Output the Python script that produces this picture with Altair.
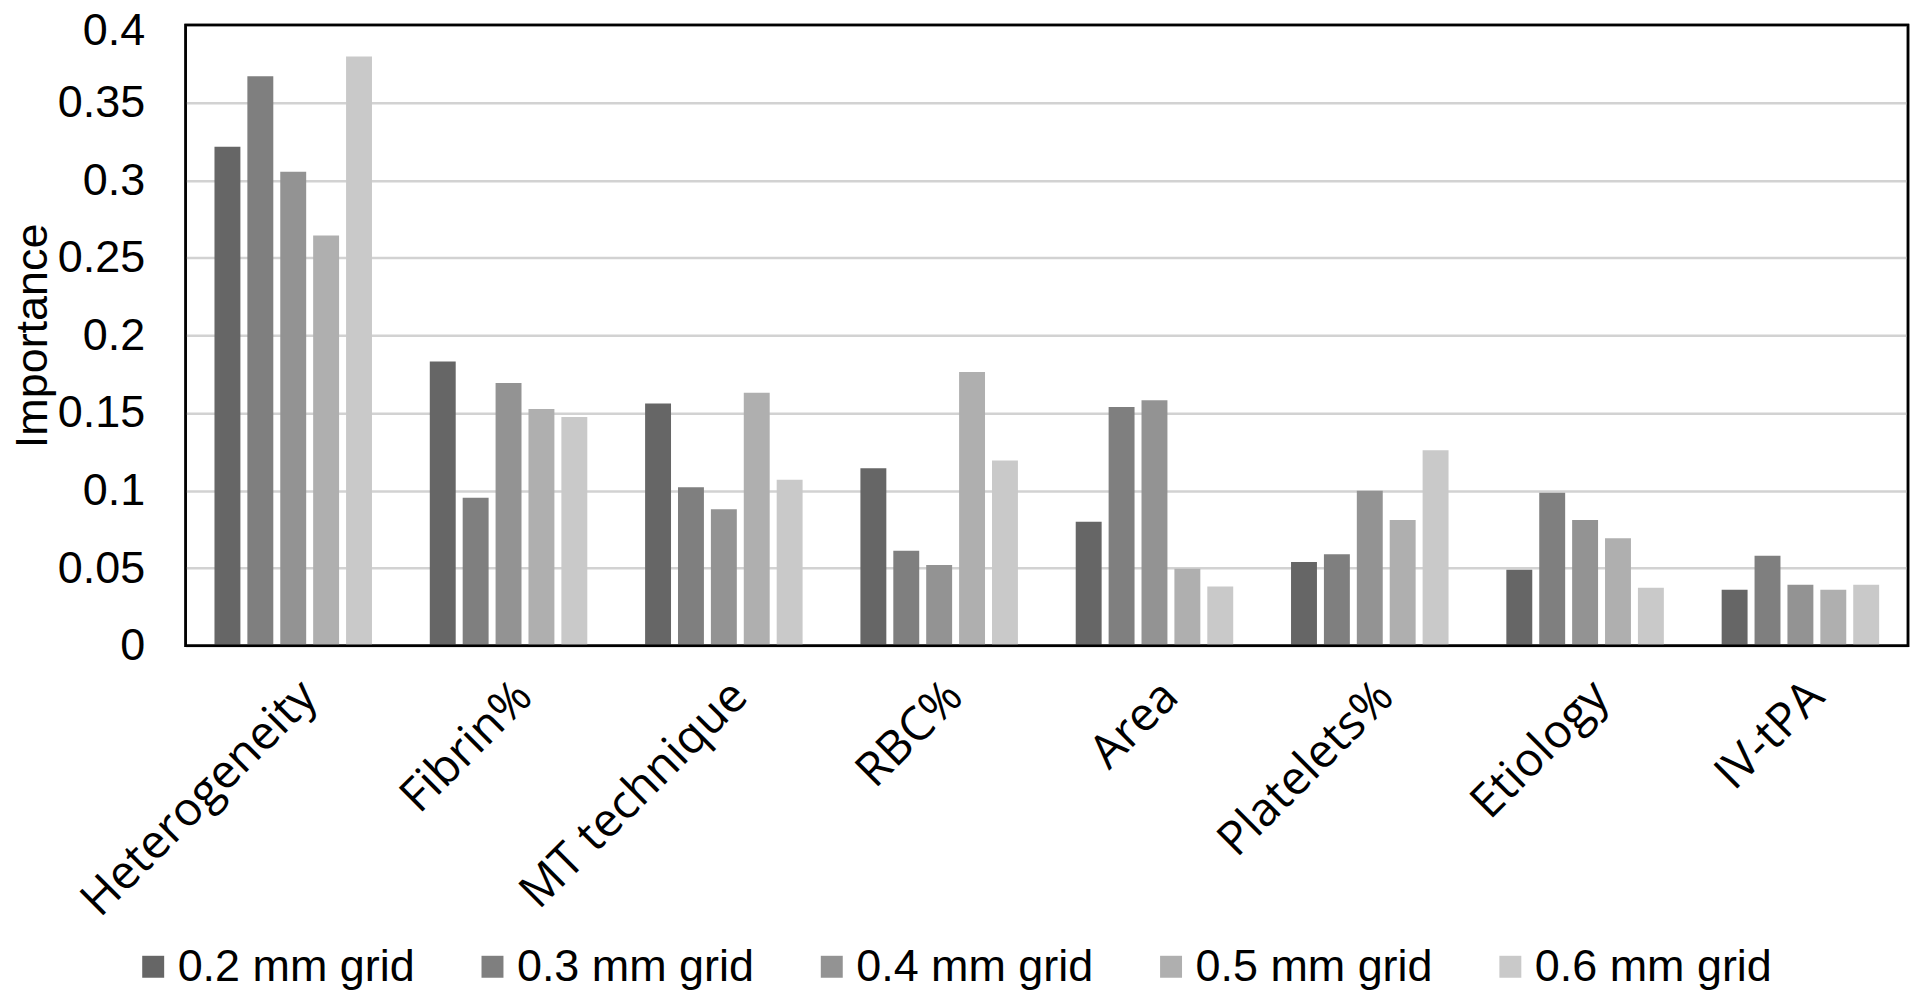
import altair as alt
import pandas as pd

categories = ["Heterogeneity", "Fibrin%", "MT technique", "RBC%", "Area", "Platelets%", "Etiology", "IV-tPA"]
series = ["0.2 mm grid", "0.3 mm grid", "0.4 mm grid", "0.5 mm grid", "0.6 mm grid"]
colors = ["#666666", "#7f7f7f", "#939393", "#afafaf", "#c9c9c9"]

grid_02 = [0.3215, 0.1831, 0.1560, 0.1143, 0.0799, 0.0539, 0.0490, 0.0360]
grid_03 = [0.3670, 0.0953, 0.1021, 0.0612, 0.1538, 0.0590, 0.0986, 0.0580]
grid_04 = [0.3055, 0.1693, 0.0880, 0.0520, 0.1582, 0.0999, 0.0810, 0.0393]
grid_05 = [0.2644, 0.1525, 0.1630, 0.1763, 0.0496, 0.0810, 0.0693, 0.0360]
grid_06 = [0.3797, 0.1473, 0.1070, 0.1194, 0.0382, 0.1260, 0.0374, 0.0393]

y_ticks = [0, 0.05, 0.1, 0.15, 0.2, 0.25, 0.3, 0.35, 0.4]

rows = []
for s, vals in zip(series, [grid_02, grid_03, grid_04, grid_05, grid_06]):
    for c, v in zip(categories, vals):
        rows.append({"Feature": c, "Grid": s, "Importance": v})
df = pd.DataFrame(rows)

FONT = "Liberation Sans"
XFONT = "Open Sans"
W, H = 1726, 622

bars = alt.Chart(df).mark_bar().encode(
    x=alt.X("Feature:N", sort=categories, title=None,
            scale=alt.Scale(paddingInner=0.2685, paddingOuter=0.134),
            axis=alt.Axis(labelAngle=-45, labelFontSize=47, labelFont=XFONT, labelColor="black",
                          ticks=False, domain=False, labelPadding=27, labelLimit=1000)),
    xOffset=alt.XOffset("Grid:N", sort=series,
                        scale=alt.Scale(paddingInner=0.212, paddingOuter=0)),
    y=alt.Y("Importance:Q", title="Importance",
            scale=alt.Scale(domain=[0, 0.4], nice=False),
            axis=alt.Axis(values=y_ticks, format="~g", labelFontSize=45, labelFont=FONT,
                          labelColor="black", ticks=False, domain=False, labelPadding=41,
                          labelOffset={"condition": {"test": "datum.value >= 0.4", "value": 6}, "value": 0},
                          grid=True, gridColor="#d2d2d2", gridWidth=2.5,
                          titleFontSize=45, titleFont=FONT, titleFontWeight="normal",
                          titleColor="black", titleX=-153, titleY=H / 2,
                          titleBaseline="middle", titleAngle=-90)),
    color=alt.Color("Grid:N", sort=series, title=None,
                    scale=alt.Scale(domain=series, range=colors),
                    legend=alt.Legend(orient="none", direction="horizontal",
                                      legendX=-55, legendY=921,
                                      symbolType="square", symbolSize=484,
                                      symbolStrokeWidth=0, symbolOpacity=1,
                                      labelFontSize=45, labelFont=FONT, labelColor="black",
                                      labelOffset=2, columnPadding=55, labelLimit=1000)),
)

frame = alt.Chart(pd.DataFrame({"f": [0]})).mark_rect(
    fill=None, stroke="black", strokeWidth=2.5
).encode(x=alt.value(0), x2=alt.value(W), y=alt.value(0), y2=alt.value(H))

chart = alt.layer(bars, frame).properties(
    width=W,
    height=H,
    background="white",
    autosize=alt.AutoSizeParams(type="none"),
    padding={"left": 178, "top": 16, "right": 4, "bottom": 345},
).configure_view(
    stroke="black", strokeWidth=2.5
)

chart.save("out.html", embed_options={"renderer": "svg", "actions": False})
